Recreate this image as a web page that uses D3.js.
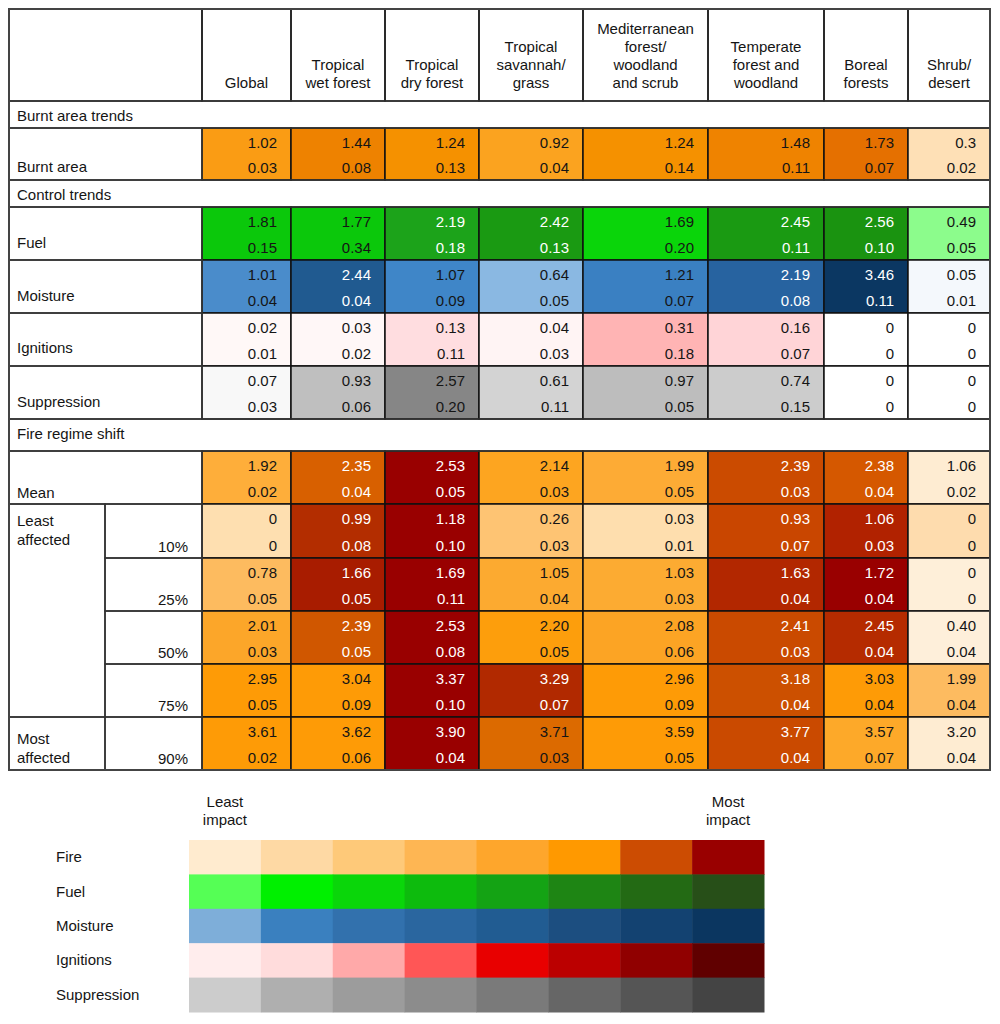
<!DOCTYPE html>
<html><head><meta charset="utf-8">
<script src="https://cdn.jsdelivr.net/npm/d3@7"></script>
<style>
body{margin:0;background:#fff}
text{font-family:"Liberation Sans",Arial,Helvetica,sans-serif;font-size:15px;fill:#151515}
</style>
</head><body>
<svg id="chart" width="1000" height="1024"></svg>
<script>
// ---------- DATA ----------
const columns = ["Global","Tropical wet forest","Tropical dry forest","Tropical savannah/grass",
  "Mediterranean forest/woodland and scrub","Temperate forest and woodland","Boreal forests","Shrub/desert"];
const headerLines = [["Global"],["Tropical","wet forest"],["Tropical","dry forest"],["Tropical","savannah/","grass"],
  ["Mediterranean","forest/","woodland","and scrub"],["Temperate","forest and","woodland"],["Boreal","forests"],["Shrub/","desert"]];
const sectionLabels = ["Burnt area trends","Control trends","Fire regime shift"];
const rowLabels = ["Burnt area","Fuel","Moisture","Ignitions","Suppression","Mean"];
const pctLabels = ["10%","25%","50%","75%","90%"];
const groupLabels = [["Least","affected"],["Most","affected"]];

const burntTop = ["1.02","1.44","1.24","0.92","1.24","1.48","1.73","0.3"];
const burntBot = ["0.03","0.08","0.13","0.04","0.14","0.11","0.07","0.02"];
const fuelTop  = ["1.81","1.77","2.19","2.42","1.69","2.45","2.56","0.49"];
const fuelBot  = ["0.15","0.34","0.18","0.13","0.20","0.11","0.10","0.05"];
const moistTop = ["1.01","2.44","1.07","0.64","1.21","2.19","3.46","0.05"];
const moistBot = ["0.04","0.04","0.09","0.05","0.07","0.08","0.11","0.01"];
const ignTop   = ["0.02","0.03","0.13","0.04","0.31","0.16","0","0"];
const ignBot   = ["0.01","0.02","0.11","0.03","0.18","0.07","0","0"];
const supTop   = ["0.07","0.93","2.57","0.61","0.97","0.74","0","0"];
const supBot   = ["0.03","0.06","0.20","0.11","0.05","0.15","0","0"];
const meanTop  = ["1.92","2.35","2.53","2.14","1.99","2.39","2.38","1.06"];
const meanBot  = ["0.02","0.04","0.05","0.03","0.05","0.03","0.04","0.02"];
const p10Top   = ["0","0.99","1.18","0.26","0.03","0.93","1.06","0"];
const p10Bot   = ["0","0.08","0.10","0.03","0.01","0.07","0.03","0"];
const p25Top   = ["0.78","1.66","1.69","1.05","1.03","1.63","1.72","0"];
const p25Bot   = ["0.05","0.05","0.11","0.04","0.03","0.04","0.04","0"];
const p50Top   = ["2.01","2.39","2.53","2.20","2.08","2.41","2.45","0.40"];
const p50Bot   = ["0.03","0.05","0.08","0.05","0.06","0.03","0.04","0.04"];
const p75Top   = ["2.95","3.04","3.37","3.29","2.96","3.18","3.03","1.99"];
const p75Bot   = ["0.05","0.09","0.10","0.07","0.09","0.04","0.04","0.04"];
const p90Top   = ["3.61","3.62","3.90","3.71","3.59","3.77","3.57","3.20"];
const p90Bot   = ["0.02","0.06","0.04","0.03","0.05","0.04","0.07","0.04"];

// cell shading (impact colour)
const burntFill = ["#fa9c14","#ee8200","#f59100","#fba31f","#f59100","#ef8300","#e57000","#fee0b6"];
const fuelFill  = ["#0bc80b","#0bc80b","#1ca31a","#1a9a12","#0ad50a","#1a9a12","#1a9310","#8cfc8c"];
const moistFill = ["#4a8ccb","#205a90","#3f86c8","#8ab8e2","#3a80c2","#2763a0","#0b3762","#f4f8fc"];
const ignFill   = ["#fff8f7","#fff7f7","#ffdde0","#fff4f4","#ffb4b4","#ffd4d7","#ffffff","#ffffff"];
const supFill   = ["#f8f8f8","#bfbfbf","#868686","#d3d3d3","#bdbdbd","#cccccc","#ffffff","#ffffff"];
const meanFill  = ["#feae3a","#d86000","#990000","#fda520","#fdab35","#cb4b00","#d55800","#feecd2"];
const p10Fill   = ["#fedfb0","#b32d00","#990000","#fec473","#fedeae","#c94600","#b12200","#fedcae"];
const p25Fill   = ["#fdbb5f","#a81c00","#990000","#fcaa30","#fcab32","#b22700","#990000","#feefd9"];
const p50Fill   = ["#fca629","#d05700","#990000","#fd9e0c","#fca424","#ca4a00","#b52b00","#feefda"];
const p75Fill   = ["#fe9b06","#fe9b06","#990000","#b12900","#fe9b06","#cc5000","#fe9b06","#fdbb60"];
const p90Fill   = ["#fe9b06","#fe9b06","#990000","#dc6a00","#fe9b06","#ca4a00","#fda929","#feecd2"];

// 1 = value printed in white
const burntWhite = [0,0,0,0,0,0,0,0];
const fuelWhite  = [0,0,1,1,0,1,1,0];
const moistWhite = [0,1,0,0,0,1,1,0];
const ignWhite   = [0,0,0,0,0,0,0,0];
const supWhite   = [0,0,0,0,0,0,0,0];
const meanWhite  = [0,1,1,0,0,1,1,0];
const p10White   = [0,1,1,0,0,1,1,0];
const p25White   = [0,1,1,0,0,1,1,0];
const p50White   = [0,1,1,0,0,1,1,0];
const p75White   = [0,0,1,1,0,1,0,0];
const p90White   = [0,0,1,0,0,1,0,0];

const legendRows = ["Fire","Fuel","Moisture","Ignitions","Suppression"];
const legendEnds = [["Least","impact"],["Most","impact"]];
const firePal = ["#ffebcf","#fed9a4","#fec979","#feb653","#fea62c","#ff9900","#cc4c02","#990000"];
const fuelPal = ["#55ff55","#00f000","#0ad60a","#0dbb0d","#14a314","#1e8514","#236a14","#274f18"];
const moistPal = ["#7eaed9","#3a80bf","#3271ad","#2a669f","#215c92","#1c4e80","#134271","#0b3660"];
const ignPal = ["#ffeded","#ffdcdc","#ffa9a9","#ff5656","#e80000","#bb0000","#900000","#600000"];
const supPal = ["#cccccc","#afafaf","#9c9c9c","#8c8c8c","#7a7a7a","#666666","#555555","#444444"];

// ---------- ASSEMBLY ----------
const dataRows = [
  {top:burntTop,bot:burntBot,fill:burntFill,white:burntWhite},
  {top:fuelTop,bot:fuelBot,fill:fuelFill,white:fuelWhite},
  {top:moistTop,bot:moistBot,fill:moistFill,white:moistWhite},
  {top:ignTop,bot:ignBot,fill:ignFill,white:ignWhite},
  {top:supTop,bot:supBot,fill:supFill,white:supWhite},
  {top:meanTop,bot:meanBot,fill:meanFill,white:meanWhite},
  {top:p10Top,bot:p10Bot,fill:p10Fill,white:p10White},
  {top:p25Top,bot:p25Bot,fill:p25Fill,white:p25White},
  {top:p50Top,bot:p50Bot,fill:p50Fill,white:p50White},
  {top:p75Top,bot:p75Bot,fill:p75Fill,white:p75White},
  {top:p90Top,bot:p90Bot,fill:p90Fill,white:p90White}
];
const palettes = [firePal,fuelPal,moistPal,ignPal,supPal];

// layout (row heights in px units, column width weights)
const layout = [
  {type:"header",h:92},
  {type:"section",h:27,s:0},
  {type:"data",h:52,r:0,lab:0,dy:-8},
  {type:"section",h:27,s:1},
  {type:"data",h:53,r:1,lab:1,dy:-12},
  {type:"data",h:53,r:2,lab:2,dy:-12},
  {type:"data",h:53,r:3,lab:3,dy:-13},
  {type:"data",h:53,r:4,lab:4,dy:-12},
  {type:"section",h:32,s:2},
  {type:"data",h:53,r:5,lab:5,dy:-6},
  {type:"pct",h:54,r:6,p:0},
  {type:"pct",h:53,r:7,p:1},
  {type:"pct",h:53,r:8,p:2},
  {type:"pct",h:53,r:9,p:3},
  {type:"pct",h:53,r:10,p:4}
];
const colWeights = [89,94,94,104,125,116,84,82];

const L = 9, R = 990, T = 9, B = 770, labelRight = 202, subSplit = 105;
let acc = 0;
layout.forEach(d => { d.u0 = acc; acc += d.h; d.u1 = acc; });
const y = d3.scaleLinear().domain([0, acc]).range([T, B]);
let cacc = 0;
const colSpan = colWeights.map(w => { const o = {a:cacc, b:cacc+w}; cacc += w; return o; });
const x = d3.scaleLinear().domain([0, cacc]).range([labelRight, R]);

const svg = d3.select("#chart");
const gFill = svg.append("g"), gLine = svg.append("g"), gText = svg.append("g");
const lineCol = "#1c1c1c", lw = 1.5;

function cellRect(g, x0, y0, x1, y1, fill, stroke) {
  g.append("rect").attr("x", x0).attr("y", y0).attr("width", x1 - x0).attr("height", y1 - y0)
    .attr("fill", fill || "none").attr("stroke", stroke || lineCol).attr("stroke-width", lw);
}

layout.forEach(d => {
  const y0 = y(d.u0), y1 = y(d.u1);
  if (d.type === "header") {
    cellRect(gLine, L, y0, labelRight, y1);
    columns.forEach((c, i) => {
      const x0 = x(colSpan[i].a), x1 = x(colSpan[i].b);
      cellRect(gLine, x0, y0, x1, y1);
      const lines = headerLines[i];
      const t = gText.append("text").attr("text-anchor", "middle");
      lines.forEach((ln, k) => {
        t.append("tspan").attr("x", (x0 + x1) / 2)
          .attr("y", y1 - 13 - (lines.length - 1 - k) * 18).text(ln);
      });
    });
  } else if (d.type === "section") {
    cellRect(gLine, L, y0, R, y1, null, "#333");
    gText.append("text").attr("x", 17).attr("y", y0 + 19.5).text(sectionLabels[d.s]);
  } else {
    const row = dataRows[d.r];
    if (d.type === "data") {
      cellRect(gLine, L, y0, labelRight, y1, null, "#333");
      gText.append("text").attr("x", 17).attr("y", y1 + d.dy).text(rowLabels[d.lab]);
    } else {
      cellRect(gLine, subSplit, y0, labelRight, y1, null, "#333");
      gText.append("text").attr("x", labelRight - 14).attr("y", y1 - 6)
        .attr("text-anchor", "end").text(pctLabels[d.p]);
    }
    columns.forEach((c, i) => {
      const x0 = x(colSpan[i].a), x1 = x(colSpan[i].b);
      cellRect(gFill, x0, y0, x1, y1, row.fill[i], "#111");
      const col = row.white[i] ? "#ffffff" : "#151515";
      gText.append("text").attr("x", x1 - 14).attr("y", y0 + 20).attr("text-anchor", "end")
        .style("fill", col).text(row.top[i]);
      gText.append("text").attr("x", x1 - 14).attr("y", y1 - 7).attr("text-anchor", "end")
        .style("fill", col).text(row.bot[i]);
    });
  }
});

// merged group cells (Least affected: 10%..75%, Most affected: 90%)
const pctRows = layout.filter(d => d.type === "pct");
const groups = [[pctRows[0], pctRows[3]], [pctRows[4], pctRows[4]]];
groups.forEach((g, gi) => {
  const y0 = y(g[0].u0), y1 = y(g[1].u1);
  cellRect(gLine, L, y0, subSplit, y1, null, "#333");
  const t = gText.append("text");
  const base = gi === 0 ? y0 + 22 : y1 - 26;
  groupLabels[gi].forEach((ln, k) => t.append("tspan").attr("x", 17).attr("y", base + k * 18.5).text(ln));
});

// outer border
gLine.append("rect").attr("x", L).attr("y", T).attr("width", R - L).attr("height", B - T)
  .attr("fill", "none").attr("stroke", "#444").attr("stroke-width", 2);

// ---------- LEGEND ----------
const lx = d3.scaleBand().domain(d3.range(8)).range([189, 764]);
const ly = d3.scaleBand().domain(legendRows).range([840, 1012]);
const gLeg = svg.append("g");
legendRows.forEach((r, ri) => {
  palettes[ri].forEach((c, k) => {
    gLeg.append("rect").attr("x", lx(k)).attr("y", ly(r))
      .attr("width", lx.bandwidth() + 0.5).attr("height", ly.bandwidth() + 0.5).attr("fill", c);
  });
  gLeg.append("text").attr("x", 56).attr("y", ly(r) + ly.bandwidth() / 2 + 5).text(r);
});
legendEnds.forEach((e, i) => {
  const cx = lx(i === 0 ? 0 : 7) + lx.bandwidth() / 2;
  const t = gLeg.append("text").attr("text-anchor", "middle");
  e.forEach((ln, k) => t.append("tspan").attr("x", cx).attr("y", 807 + k * 18).text(ln));
});
</script>
</body></html>
